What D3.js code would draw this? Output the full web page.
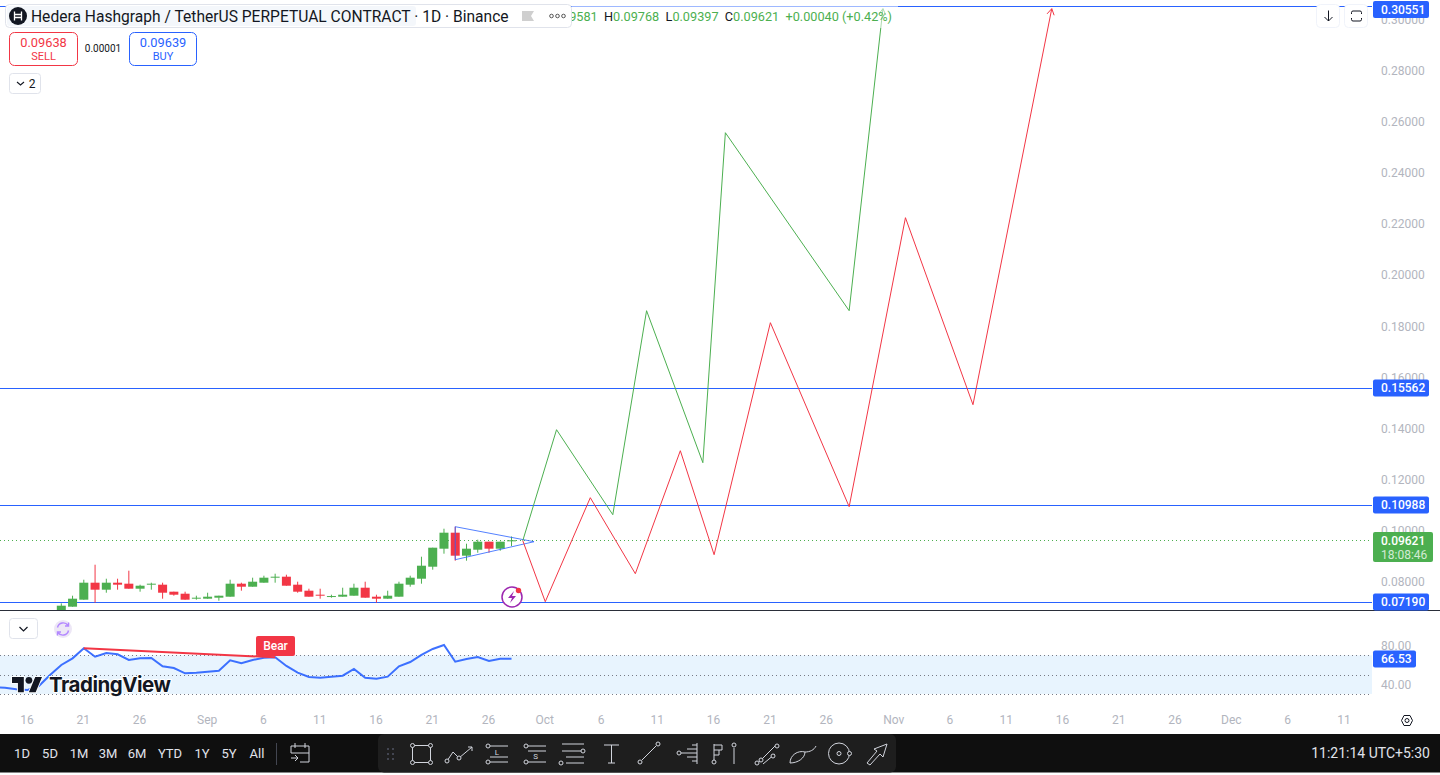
<!DOCTYPE html>
<html>
<head>
<meta charset="utf-8">
<title>HBARUSDT.P 1D</title>
<script src="https://cdn.jsdelivr.net/npm/d3@7"></script>
<style>
  html, body { margin: 0; padding: 0; background: #fff; overflow: hidden; }
  text { font-family: Roboto, "Liberation Sans", sans-serif; }
</style>
</head>
<body>
<svg id="chart" width="1440" height="775"></svg>
<script>
// daily candles, Aug 19 to Sep 28
const candleStart = "2024-08-19";
const opens = [.06735,.07022,.07296,.07961,.07687,.07961,.07922,.07726,.07883,.07883,.07609,.07530,.07335,.07335,.07374,.07413,.07922,.07804,.07961,.08157,.08196,.07883,.07648,.07491,.07413,.07413,.07452,.07765,.07413,.07335,.07413,.07883,.08117,.08587,.09292,.09918,.09018,.09252,.09566,.09292,.09581];
const highs = [.07152,.07452,.08078,.08665,.08117,.08117,.08431,.07883,.07961,.07961,.07609,.07609,.07452,.07569,.07452,.08078,.07961,.08157,.08235,.08313,.08274,.08000,.07726,.07726,.07491,.07765,.07922,.08000,.07491,.07648,.08000,.08235,.08978,.09331,.10074,.10153,.09487,.09644,.09566,.09566,.09768];
const lows = [.06700,.07022,.07296,.07178,.07569,.07687,.07726,.07609,.07687,.07335,.07452,.07296,.07296,.07335,.07256,.07413,.07648,.07804,.07961,.07961,.07843,.07569,.07413,.07335,.07374,.07413,.07452,.07374,.07178,.07335,.07413,.07804,.07922,.08470,.09096,.08822,.08822,.09135,.09135,.09213,.09397];
const closes = [.07061,.07335,.07961,.07687,.07961,.07883,.07726,.07843,.07922,.07569,.07491,.07296,.07374,.07413,.07452,.07922,.07804,.08000,.08157,.08196,.07843,.07609,.07413,.07452,.07439,.07491,.07765,.07374,.07335,.07452,.07922,.08157,.08626,.09331,.09918,.09018,.09292,.09566,.09292,.09566,.09621];

// rsi starts a few days before the first visible candle
const rsiStart = "2024-08-13";
const rsiValues = [36.7,36.5,34.8,34.1,38.2,49.6,60.0,66.9,77.3,68.6,72.4,71.1,65.2,66.9,67.3,58.7,56.9,51.4,52.0,53.1,54.1,64.9,61.8,65.2,67.6,68.0,59.0,52.0,47.6,46.8,47.9,48.9,55.9,46.8,45.8,47.9,58.7,63.1,70.4,76.6,80.7,63.4,66.2,68.3,64.1,66.5,66.53];

// the two drawn projections
const greenDates = ["2024-09-29","2024-10-02","2024-10-07","2024-10-10","2024-10-15","2024-10-17","2024-10-28","2024-10-31"];
const greenPrices = [.09605,.13949,.10622,.18607,.12658,.25573,.18607,.30427];
const redDates = ["2024-09-29","2024-10-01","2024-10-05","2024-10-09","2024-10-13","2024-10-16","2024-10-21","2024-10-28","2024-11-02","2024-11-08","2024-11-15"];
const redPrices = [.09605,.07217,.11288,.08313,.13127,.09057,.18137,.10935,.22247,.14928,.30427];

// triangle drawing
const triangleDates = ["2024-09-23","2024-09-30","2024-09-23"];
const trianglePrices = [.10153,.09566,.08861];

// horizontal levels and the last price
const levels = [.30551,.15562,.10988,.07190];
const lastPrice = .09621;
const lastRsi = 66.53;
const bearDates = ["2024-08-21","2024-09-07"];
const bearRsi = [77.3,68.0];

// axis ticks
const priceTicks = [.08,.10,.12,.14,.16,.18,.20,.22,.24,.26,.28,.30];
const rsiTicks = [80,40];
const rsiBands = [70,50,30];
const dateTicks = ["2024-08-16","2024-08-21","2024-08-26","2024-09-01","2024-09-06","2024-09-11","2024-09-16","2024-09-21","2024-09-26","2024-10-01","2024-10-06","2024-10-11","2024-10-16","2024-10-21","2024-10-26","2024-11-01","2024-11-06","2024-11-11","2024-11-16","2024-11-21","2024-11-26","2024-12-01","2024-12-06","2024-12-11"];
const dateLabels = ["16","21","26","Sep","6","11","16","21","26","Oct","6","11","16","21","26","Nov","6","11","16","21","26","Dec","6","11"];

const rangeButtons = ["1D","5D","1M","3M","6M","YTD","1Y","5Y","All"];
const rangeButtonX = [22,50,79,108,137,170,202,229,257];

const GREEN = "#4caf50", RED = "#f23645", BLUE = "#2962ff", GREY = "#b2b5be", DARK = "#131722";
const plotRight = 1372;

const parse = d3.utcParse("%Y-%m-%d");
const svg = d3.select("#chart");

// scales
const x = d3.scaleUtc().domain([parse("2024-08-19"), parse("2024-12-11")]).range([61.3, 1344.4]);
const y = d3.scaleLinear().domain([.08, .28]).range([581.7, 70.7]);
const yRsi = d3.scaleLinear().domain([40, 80]).range([684.3, 645.7]);
const candleDates = opens.map((d, i) => d3.utcDay.offset(parse(candleStart), i));
const rsiDates = rsiValues.map((d, i) => d3.utcDay.offset(parse(rsiStart), i));

svg.append("clipPath").attr("id", "mainClip").append("rect")
  .attr("width", plotRight).attr("height", 610);

// price axis and time axis first so the tags can sit on top
const priceAxis = svg.append("g").attr("transform", "translate(1373,0)")
  .call(d3.axisRight(y).tickValues(priceTicks).tickFormat(d3.format(".5f")).tickSize(0).tickPadding(8));
const rsiAxis = svg.append("g").attr("transform", "translate(1373,0)")
  .call(d3.axisRight(yRsi).tickValues(rsiTicks).tickFormat(d3.format(".2f")).tickSize(0).tickPadding(8));
const timeAxis = svg.append("g").attr("transform", "translate(-1,711)")
  .call(d3.axisBottom(x).tickValues(dateTicks.map(parse)).tickFormat((d, i) => dateLabels[i]).tickSize(0).tickPadding(4));
[priceAxis, rsiAxis, timeAxis].forEach(a => {
  a.select(".domain").remove();
  a.selectAll("text").attr("fill", GREY).style("font-size", "12px").style("font-family", "Roboto, sans-serif");
});

const main = svg.append("g").attr("clip-path", "url(#mainClip)");

// level lines
main.selectAll(".level").data(levels).join("line")
  .attr("x1", 0).attr("x2", plotRight)
  .attr("y1", d => Math.round(y(d)) + .5).attr("y2", d => Math.round(y(d)) + .5)
  .attr("stroke", BLUE).attr("stroke-width", 1);

// last price dotted line
main.append("line")
  .attr("x1", 0).attr("x2", plotRight)
  .attr("y1", Math.round(y(lastPrice)) + .5).attr("y2", Math.round(y(lastPrice)) + .5)
  .attr("stroke", GREEN).attr("stroke-dasharray", "1 3");

// candles
const candles = main.selectAll(".candle").data(candleDates).join("g");
candles.append("line")
  .attr("x1", d => x(d)).attr("x2", d => x(d))
  .attr("y1", (d, i) => y(highs[i])).attr("y2", (d, i) => y(lows[i]))
  .attr("stroke", (d, i) => closes[i] >= opens[i] ? GREEN : RED).attr("stroke-width", 1);
candles.append("rect")
  .attr("x", d => x(d) - 4.5).attr("width", 9)
  .attr("y", (d, i) => y(Math.max(opens[i], closes[i])))
  .attr("height", (d, i) => Math.max(1, Math.abs(y(opens[i]) - y(closes[i]))))
  .attr("fill", (d, i) => closes[i] >= opens[i] ? GREEN : RED);

// triangle
const line = d3.line().x(d => x(d[0])).y(d => y(d[1]));
main.append("path")
  .attr("d", line(triangleDates.map((d, i) => [parse(d), trianglePrices[i]])) + "Z")
  .attr("fill", "none").attr("stroke", BLUE).attr("stroke-width", 1).attr("opacity", .8);

// green and red projections with open arrow heads
function projection(dates, prices, colour) {
  const pts = dates.map((d, i) => [parse(d), prices[i]]);
  main.append("path").attr("d", line(pts)).attr("fill", "none").attr("stroke", colour).attr("stroke-width", 1);
  const a = pts[pts.length - 2], b = pts[pts.length - 1];
  const bx = x(b[0]), by = y(b[1]);
  const ang = Math.atan2(by - y(a[1]), bx - x(a[0]));
  const head = [ang + 2.6, ang - 2.6].map(t => [bx + 7 * Math.cos(t), by + 7 * Math.sin(t)]);
  main.append("path").attr("d", d3.line()([head[0], [bx, by], head[1]]))
    .attr("fill", "none").attr("stroke", colour).attr("stroke-width", 1);
}
projection(greenDates, greenPrices, GREEN);
projection(redDates, redPrices, RED);

// earnings style bolt icon under the candles
const bolt = svg.append("g").attr("transform", "translate(512,597)");
bolt.append("circle").attr("r", 10).attr("fill", "#fff").attr("stroke", "#9c27b0").attr("stroke-width", 1.5);
bolt.append("path").attr("d", "M2 -6 L-4 1 L0 1 L-2 6 L4 -1 L0 -1 Z").attr("fill", "#9c27b0");
bolt.append("circle").attr("cx", 6.5).attr("cy", -6.5).attr("r", 2.7).attr("fill", RED);

// pane separator
svg.append("line").attr("x1", 0).attr("x2", 1440).attr("y1", 610.5).attr("y2", 610.5)
  .attr("stroke", "#2a2e39").attr("stroke-width", 1);

// rsi pane
svg.append("rect").attr("x", 0).attr("width", plotRight)
  .attr("y", yRsi(rsiBands[0])).attr("height", yRsi(rsiBands[2]) - yRsi(rsiBands[0]))
  .attr("fill", "#2196f3").attr("opacity", .1);
svg.selectAll(".band").data(rsiBands).join("line")
  .attr("x1", 0).attr("x2", plotRight)
  .attr("y1", d => Math.round(yRsi(d)) + .5).attr("y2", d => Math.round(yRsi(d)) + .5)
  .attr("stroke", "#787b86").attr("stroke-dasharray", "1 3");
svg.append("path")
  .attr("d", d3.line().x((d, i) => x(rsiDates[i])).y(d => yRsi(d))(rsiValues))
  .attr("fill", "none").attr("stroke", BLUE).attr("stroke-width", 2).attr("opacity", .9);
svg.append("line")
  .attr("x1", x(parse(bearDates[0]))).attr("y1", yRsi(bearRsi[0]))
  .attr("x2", x(parse(bearDates[1]))).attr("y2", yRsi(bearRsi[1]))
  .attr("stroke", RED).attr("stroke-width", 2);
svg.append("rect").attr("x", 256).attr("y", 636).attr("width", 39).attr("height", 20).attr("rx", 2).attr("fill", RED);
svg.append("text").attr("x", 275.5).attr("y", 649.5).attr("text-anchor", "middle")
  .attr("fill", "#fff").style("font-size", "12px").style("font-weight", 500).text("Bear");

// pane buttons
svg.append("rect").attr("x", 9.5).attr("y", 618.5).attr("width", 28).attr("height", 20).attr("rx", 3)
  .attr("fill", "#fff").attr("stroke", "#e0e3eb");
svg.append("path").attr("d", "M19.5 627 L23.5 631 L27.5 627").attr("fill", "none").attr("stroke", DARK).attr("stroke-width", 1.2);
svg.append("circle").attr("cx", 63).attr("cy", 629).attr("r", 9).attr("fill", "#ede7f6");
svg.append("path").attr("d", "M57.5 627.5 A5.8 5.8 0 0 1 68 625.5 M68.5 630.5 A5.8 5.8 0 0 1 58 632.5 M68.5 622.5 V626 H65 M57.5 635.5 V632 H61")
  .attr("fill", "none").attr("stroke", "#b388ff").attr("stroke-width", 1.4);

// tradingview logo
const logo = svg.append("g").attr("transform", "translate(12,673.6) scale(.845)");
logo.append("path").attr("d", "M14 22H7V11H0V4h14v18zM28 22h-8l7.5-18h8L28 22z").attr("fill", "#131722")
  .attr("stroke", "#fff").attr("stroke-width", 2).attr("paint-order", "stroke");
logo.append("circle").attr("cx", 20).attr("cy", 8).attr("r", 4).attr("fill", "#131722");
svg.append("text").attr("x", 49).attr("y", 692).attr("fill", "#131722")
  .attr("stroke", "#fff").attr("stroke-width", 2).attr("paint-order", "stroke")
  .style("font-family", "Inter, sans-serif").style("font-size", "20.5px").style("font-weight", 700)
  .style("letter-spacing", "-.5px").text("TradingView");

// price tags on the axis
function tag(px, py, w, h, colour, label) {
  svg.append("rect").attr("x", px).attr("y", py).attr("width", w).attr("height", h).attr("rx", 2).attr("fill", colour);
  svg.append("text").attr("x", px + 8).attr("y", py + h / 2 + 4.2)
    .attr("fill", "#fff").style("font-size", "12px").style("font-weight", 500).text(label);
}
const f5 = d3.format(".5f");
tag(1373, 1, 56, 17, BLUE, f5(levels[0]));
levels.slice(1).forEach(v => tag(1373, Math.round(y(v)) - 8.5, 56, 17, BLUE, f5(v)));
svg.append("rect").attr("x", 1373).attr("y", 532).attr("width", 60).attr("height", 30).attr("rx", 2).attr("fill", GREEN);
svg.append("text").attr("x", 1381).attr("y", 545).attr("fill", "#fff").style("font-size", "12px").style("font-weight", 500).text(f5(lastPrice));
svg.append("text").attr("x", 1381).attr("y", 559).attr("fill", "#fff").attr("opacity", .75).style("font-size", "12px").text("18:08:46");
tag(1373, Math.round(yRsi(lastRsi)) - 8.5, 43, 17, BLUE, lastRsi.toFixed(2));

// hexagon settings icon
svg.append("path").attr("d", "M1401.5 720.5 L1404 715.5 H1410 L1412.5 720.5 L1410 725.5 H1404 Z").attr("fill", "none").attr("stroke", DARK);
svg.append("circle").attr("cx", 1407).attr("cy", 720.5).attr("r", 2).attr("fill", "none").attr("stroke", DARK);

// top right buttons
[1316.5, 1344.5].forEach(bx => svg.append("rect").attr("x", bx).attr("y", 4.5).attr("width", 23).attr("height", 23).attr("rx", 4)
  .attr("fill", "#fff").attr("stroke", "#f0f3fa"));
svg.append("path").attr("d", "M1328.5 10.5 V21 M1324.5 17 L1328.5 21 L1332.5 17").attr("fill", "none").attr("stroke", DARK);
svg.append("path").attr("d", "M1351.5 14 V12.5 A1.5 1.5 0 0 1 1353 11 H1360 A1.5 1.5 0 0 1 1361.5 12.5 V14 M1351.5 18 V19.5 A1.5 1.5 0 0 0 1353 21 H1360 A1.5 1.5 0 0 0 1361.5 19.5 V18")
  .attr("fill", "none").attr("stroke", DARK);

// legend text, the symbol box covers the start of it
svg.append("rect").attr("x", 572).attr("y", 0).attr("width", 326).attr("height", 28).attr("fill", "#fff").attr("opacity", .55);
const legend = svg.append("text").attr("x", 892).attr("y", 21).attr("text-anchor", "end").style("font-size", "12.7px").attr("fill", GREEN);
[["O",0],["0.09581  ",1],["H",0],["0.09768  ",1],["L",0],["0.09397  ",1],["C",0],["0.09621  ",1],["+0.00040 (+0.42%)",1]].forEach(d => {
  legend.append("tspan").attr("xml:space", "preserve").attr("fill", d[1] ? GREEN : DARK).text(d[0]);
});
legend.attr("xml:space", "preserve");

// symbol box
svg.append("rect").attr("x", 5.5).attr("y", 4.5).attr("width", 566).attr("height", 23).attr("rx", 4)
  .attr("fill", "#fff").attr("stroke", "#e0e3eb");
svg.append("rect").attr("x", 7).attr("y", 6).attr("width", 409).attr("height", 20).attr("rx", 3).attr("fill", "#f0f3fa").attr("opacity", .7);
svg.append("circle").attr("cx", 18).attr("cy", 16).attr("r", 9).attr("fill", DARK);
svg.append("path").attr("d", "M14.5 11.5 V20.5 M21.5 11.5 V20.5 M14.5 14.5 H21.5 M14.5 17.5 H21.5").attr("fill", "none").attr("stroke", "#fff").attr("stroke-width", 1.3);
svg.append("text").attr("x", 31).attr("y", 21.5).attr("fill", DARK).style("font-size", "15.6px")
  .text("Hedera Hashgraph / TetherUS PERPETUAL CONTRACT · 1D · Binance");
svg.append("path").attr("d", "M522 11 H534 L531 16 L534 21 H522 Z").attr("fill", "#cfcfcf");
[552, 558, 564].forEach(cx => svg.append("circle").attr("cx", cx - 0.5).attr("cy", 16).attr("r", 1.8).attr("fill", "none").attr("stroke", "#555"));

// sell / buy boxes
function tradeBox(bx, w, colour, price, word) {
  svg.append("rect").attr("x", bx).attr("y", 32.5).attr("width", w).attr("height", 33).attr("rx", 5).attr("fill", "#fff").attr("stroke", colour);
  svg.append("text").attr("x", bx + w / 2).attr("y", 46.5).attr("text-anchor", "middle").attr("fill", colour).style("font-size", "12.8px").text(price);
  svg.append("text").attr("x", bx + w / 2).attr("y", 60).attr("text-anchor", "middle").attr("fill", colour).style("font-size", "11px").text(word);
}
tradeBox(9.5, 68, RED, "0.09638", "SELL");
tradeBox(129.5, 67, BLUE, "0.09639", "BUY");
svg.append("text").attr("x", 103).attr("y", 52).attr("text-anchor", "middle").attr("fill", DARK).style("font-size", "10px").text("0.00001");
svg.append("rect").attr("x", 9.5).attr("y", 73.5).attr("width", 31).attr("height", 20).attr("rx", 3).attr("fill", "#fff").attr("stroke", "#e0e3eb");
svg.append("path").attr("d", "M17 82 L20.5 85 L24 82").attr("fill", "none").attr("stroke", DARK).attr("stroke-width", 1.1);
svg.append("text").attr("x", 32).attr("y", 88).attr("text-anchor", "middle").attr("fill", DARK).style("font-size", "12px").text("2");

// bottom toolbar
svg.append("rect").attr("x", 0).attr("y", 734).attr("width", 1440).attr("height", 38.5).attr("fill", "#0f0f0f");
svg.append("rect").attr("x", 378).attr("y", 734).attr("width", 518).attr("height", 38.5).attr("rx", 6).attr("fill", "#1e1e1e");
svg.selectAll(".range").data(rangeButtons).join("text")
  .attr("x", (d, i) => rangeButtonX[i]).attr("y", 758).attr("text-anchor", "middle")
  .attr("fill", "#e0e3eb").style("font-size", "13px").text(d => d);
svg.append("line").attr("x1", 276.5).attr("x2", 276.5).attr("y1", 743).attr("y2", 765).attr("stroke", "#434651");
svg.append("text").attr("x", 1430).attr("y", 758).attr("text-anchor", "end").attr("fill", "#e0e3eb").style("font-size", "14px").text("11:21:14 UTC+5:30");

// toolbar icons, all plain strokes
const icons = svg.append("g").attr("fill", "none").attr("stroke", "#d1d4dc").attr("stroke-width", 1);
const iconPaths = [
  "M291 746 H309 V762 H300 M291 746 V753 M291 753 H309 M295 743 V748 M305 743 V748 M291 758 H298 M295 755 L298 758 L295 761",
  "M412.5 745.5 H430.5 V762.5 H412.5 Z",
  "M447 761 L453 752 L459 758 L472 747 M468 747 H472 V751",
  "M490 746 H508 M490 762 H508 M490 757 H508",
  "M528 746 H546 M528 762 H546 M528 751 H546",
  "M562 744 H584 M562 751 H582 M566 757 H584 M566 763 H584",
  "M604 745 H619 M611.5 745 V763 M608 763 H615",
  "M642 760 L656 746",
  "M681 753 H697 M687 749 H697 M687 757 H697 M692 745 H697 M692 761 H697 M697 743 V764",
  "M714 744 V761 M714 745 H722 V750 H714 M714 755 H719 V750 M734 748 V764",
  "M759 762 L775 746 M763 764 L775 754",
  "M790 763 C790 755 798 750 805 752 C805 758 798 763 790 763 M805 752 C810 752 814 750 816 746",
  "M867 763 L877 751 L874 749 L887 744 L883 757 L880 754 L870 765 Z"
];
icons.selectAll("path").data(iconPaths).join("path").attr("d", d => d);
[[412.5,745.5],[430.5,745.5],[412.5,762.5],[430.5,762.5],[447,761],[459,758],[488,746],[488,762],[526,746],[526,762],[561,763],[583,751],[640,762],[658,744],[679,753],[714,762],[734,745],[757,763],[777,746],[761,760],[773,756]]
  .forEach(c => icons.append("circle").attr("cx", c[0]).attr("cy", c[1]).attr("r", 2).attr("fill", "#1e1e1e"));
icons.append("circle").attr("cx", 839).attr("cy", 753.5).attr("r", 10.5);
icons.append("circle").attr("cx", 839).attr("cy", 753.5).attr("r", 2);
icons.append("circle").attr("cx", 849.5).attr("cy", 753.5).attr("r", 2).attr("fill", "#1e1e1e");
svg.append("text").attr("x", 497).attr("y", 755).attr("text-anchor", "middle").attr("fill", "#d1d4dc").style("font-size", "8px").text("L");
svg.append("text").attr("x", 535.5).attr("y", 759).attr("text-anchor", "middle").attr("fill", "#d1d4dc").style("font-size", "8px").text("S");
[[387,748],[392,748],[387,753],[392,753],[387,758],[392,758]].forEach(c =>
  svg.append("rect").attr("x", c[0]).attr("y", c[1]).attr("width", 2).attr("height", 2).attr("fill", "#434651"));
</script>
</body>
</html>
